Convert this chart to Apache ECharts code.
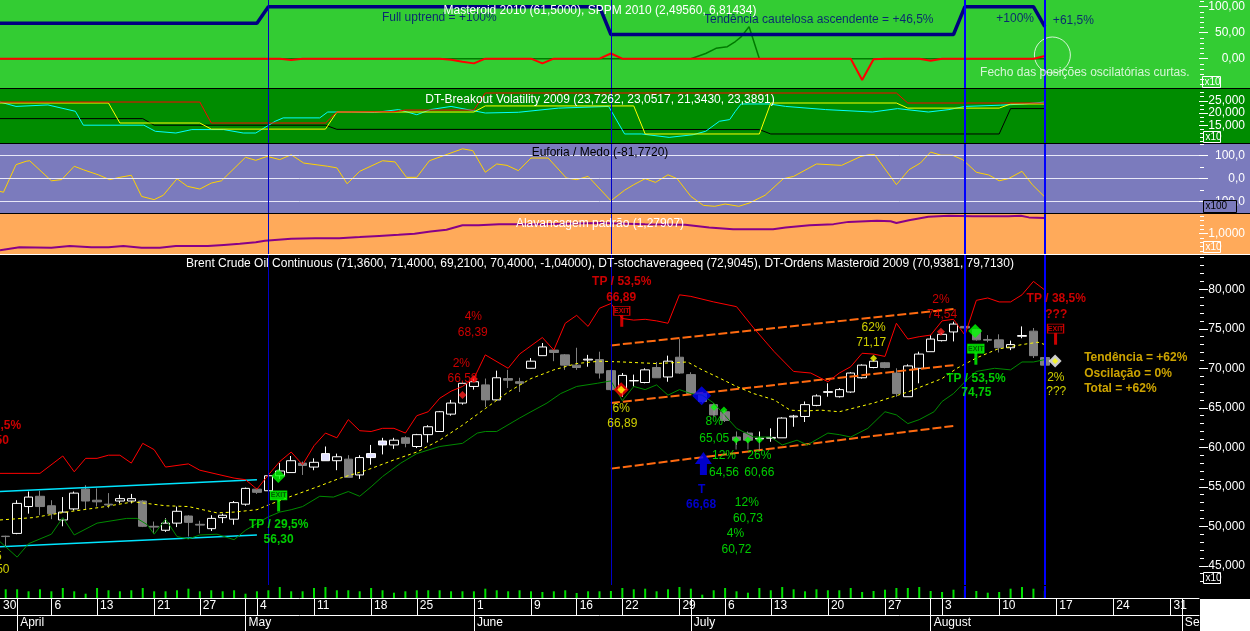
<!DOCTYPE html>
<html><head><meta charset="utf-8">
<script src="https://cdn.jsdelivr.net/npm/echarts@6.0.0/dist/echarts.min.js"></script>
<style>html,body{margin:0;padding:0;background:#000;}#c{width:1250px;height:631px;}</style>
</head><body><div id="c"></div>
<script>
// ================= DATA (x = trading-day index, 0 = 31 Mar 2009) =================
const dayTickIdx = [-0.5,4,8,13,17,22,27,32,36,41,46,50,54,59,63,67,72,77,82,87,92,97,102];
const dayTickLabels = ['30','6','13','21','27','4','11','18','25','1','9','16','22','29','6','13','20','27','3','10','17','24','31'];
const monthTickIdx = [1,21,41,60,81,103];
const monthLabels = ['April','May','June','July','August','September'];

// Brent candles [open, close, low, high]
const brentOCLH = [
[48.75,48.7,47.4,48.8],[49.1,52.9,49.0,53.3],[52.5,53.7,51.6,54.4],[53.8,52.5,51.4,54.5],[52.6,51.6,50.9,53.3],
[50.8,51.8,50.0,53.7],[52.2,54.2,52.0,54.4],[54.7,53.2,52.1,55.2],[53.3,53.1,52.5,54.8],[52.8,52.7,52.3,54.2],
[53.2,53.5,52.9,54.0],[53.2,53.5,52.9,54.1],[53.2,50.0,49.9,53.3],[50.0,49.9,49.1,50.6],[49.5,50.4,49.3,51.0],
[50.4,51.9,49.9,52.5],[51.3,50.5,48.7,51.4],[50.25,50.15,49.1,50.7],[49.7,51.0,49.4,51.4],[51.1,51.4,50.4,51.6],
[50.9,53.0,50.2,53.2],[52.8,54.8,52.6,54.9],[54.7,54.3,54.1,54.8],[54.5,56.4,54.4,56.5],[56.4,57.0,56.0,58.0],
[56.8,58.3,56.8,58.9],[58.0,57.7,56.5,58.2],[57.5,58.1,57.1,58.6],[58.3,59.2,58.3,60.1],[58.3,58.8,57.1,59.2],
[58.5,56.2,56.2,59.0],[56.5,58.7,56.0,59.0],[58.7,59.2,57.8,60.3],[60.3,60.8,59.1,61.2],[60.3,60.9,59.8,61.2],
[61.2,60.5,60.0,61.4],[60.1,61.6,59.9,61.7],[61.6,62.6,60.6,62.8],[62.0,64.5,62.0,64.6],[64.2,65.6,64.0,66.0],
[65.6,68.1,65.4,68.2],[67.7,68.3,67.3,68.7],[67.9,66.0,65.1,68.7],[66.0,68.8,66.0,69.7],[68.7,68.5,67.5,69.8],
[68.3,68.1,67.0,68.8],[70.0,70.9,70.0,71.3],[71.6,72.7,71.6,73.2],[72.3,72.0,70.9,72.4],[71.7,70.4,69.8,71.8],
[70.4,70.1,69.8,72.6],[71.05,71.15,70.2,71.7],[71.1,69.4,68.7,72.1],[69.7,67.3,67.2,69.8],[67.3,69.1,66.4,69.4],
[68.4,68.45,67.7,69.2],[68.2,69.8,68.1,70.0],[70.1,68.8,68.8,70.8],[68.9,70.9,68.3,71.6],[71.4,69.4,69.3,73.7],
[69.2,66.8,66.7,69.5],[66.8,65.8,65.6,66.9],[65.4,64.1,64.0,65.6],[64.5,63.4,63.2,64.7],[61.3,60.9,60.3,62.0],
[61.8,60.9,60.6,62.0],[61.05,61.15,60.6,62.0],[61.15,61.25,60.7,62.4],[61.2,63.7,61.2,63.8],[63.85,63.95,62.6,64.1],
[63.9,65.4,63.2,65.8],[65.3,66.5,65.2,66.7],[66.95,67.05,66.4,68.1],[66.4,67.3,66.3,67.5],[67.0,69.4,66.9,69.5],
[68.8,70.4,68.7,70.5],[70.1,70.9,70.0,71.1],[70.7,70.1,70.0,70.8],[69.4,66.8,66.4,70.0],[66.4,70.3,66.4,70.5],
[70.0,71.8,68.1,72.1],[72.1,73.7,72.1,74.2],[73.5,74.3,73.4,74.5],[74.6,75.6,73.4,75.9],[75.3,75.1,75.0,75.4],
[74.9,73.6,73.5,75.0],[73.65,73.55,73.3,74.2],[73.6,72.6,72.0,74.3],[72.6,73.0,72.3,73.5],[74.05,74.15,73.8,75.3],
[74.7,71.6,71.3,75.1],[71.36,70.40,69.21,71.40]
];
const lavenderCandles = [28,32,33];
const volumeTicks = [8.7,8.7,6.7,8.7,6.7,10,6.7,4.3,10,7.7,6.7,7.7,10,6.7,6.7,7.7,9.3,6.7,7.7,6.7,
7.7,4.3,6.7,7.7,11,6.7,6.7,10,11,7.7,7.7,6.7,10,7.7,5.3,6.7,7.7,7.7,7.7,6.7,
6.7,6.7,9.3,7.7,6.7,7.7,6.7,6,6.7,7.7,5,6.7,6.7,7,10,8.7,9.3,6.7,8.7,11,
9.3,3.3,7.7,10,6.7,5.3,10,7.7,11,8.7,6.7,8.7,7.7,7.7,10,6,7,8.3,10,10,
11,7,6,8.3,8,7,5.3,6,9.3,11,9.3,7];

const ordensUpper = [[-0.5,56.7],[3,56.7],[5,58.9],[6,56.9],[7,58.6],[8,58.6],[9,59],[10,59],[11,58],[12,60.5],[13,59.7],[14,57.5],[16,57.9],[17,57.1],[20,56.1],[21,55.9],[22,54.7],[23,56.5],[24,58.2],[25,59.4],[26,57.8],[27,60.2],[28,61.8],[29,61.2],[30,63.5],[31,62.1],[32,62],[33,62.4],[34,62.4],[35,61.8],[36,64],[37,64.5],[38,66.2],[39,67.1],[40,67.7],[41,68.7],[42,71.7],[44,70],[45,71.8],[47,73.9],[48,72.3],[49,75.7],[50,76.7],[51,75.3],[52,77.6],[53,78.2],[54,76.3],[55,76.1],[56,76.2],[57,76],[58,75.7],[59,79.3],[60,79.1],[62,78.4],[64,77.8],[65.5,75.1],[67.3,72.1],[69,69.6],[70.5,69.4],[72,68.3],[73,69.4],[74,70.2],[75,71.9],[76,71.8],[77,71.5],[78,75.7],[79,73.7],[80,74],[81,74.2],[82,76],[83,76.2],[84,74.2],[85,78.6],[86,78.9],[87,78.4],[88,78.4],[89,79.3],[90,81],[91,79.9]];
const ordensLower = [[-0.5,48.05],[1,46.1],[2,47.8],[4,49],[5,51.1],[6,48.9],[8,50.4],[10.6,51],[11.5,51],[12.4,50.2],[13,49],[14,50.9],[15,48.7],[16,48.4],[17,48.9],[18.5,49],[20,48.3],[21,49.5],[23,51.2],[24,51.8],[25,52.1],[26,52.5],[27.5,53.8],[28.7,53.7],[30,54.4],[31,53.8],[32,55],[33,56.3],[34.6,58],[36,59.2],[38,60.1],[40,60.5],[41.3,61.8],[42,62],[43,62],[45,63.7],[46,64.5],[47.4,65.6],[48.6,66.8],[50,67.7],[51.8,68.1],[53,68.4],[54,65.9],[55,67.7],[56,67.3],[57,67.9],[58,66.6],[59,67.3],[60,66.8],[61,66.6],[62,65.6],[64,62.4],[65.5,61.3],[67,61.3],[68,60.3],[69.3,60.9],[70.2,60.3],[71.4,61.3],[72,61.8],[73,61.6],[74,61.3],[75.5,62.4],[77,64.5],[78,64.1],[79,63],[80,63.5],[81.3,64.5],[82,65.8],[83,66.8],[84,68.3],[85,69.6],[86.6,70],[88,69.8],[89,70.8],[90,70.8],[91,71.1]];
const stochAverage = [[-0.5,50.8],[2.4,51.1],[5.3,51.8],[8.3,52.4],[11.2,53.1],[14,52.6],[16,52.5],[18.5,51.7],[20,51.8],[22,52.1],[23,52.7],[25,53.8],[27.3,55],[29.3,56.1],[31.6,57.1],[34,58.4],[36,59.4],[38,60.9],[40,62.8],[42,64.9],[44,67],[46,68.7],[48,69.8],[50,70.6],[52,70.9],[54,70.8],[57,70.6],[59.7,70.8],[61,69.8],[62.6,68.7],[64,67.7],[65.5,66.8],[67.3,66],[68.7,64.7],[70,64.6],[71.4,64.7],[73,64.5],[76,65.6],[79,67],[82,68.7],[83.3,70],[85,71.3],[86.8,72.4],[89,73],[90.4,73.3],[91,73]];
const channelTop = [[53,72.9],[83,77.5]];
const channelMid = [[53,65.6],[83,70.4]];
const channelBottom = [[53,57.3],[83,62.7]];
const cyanTop = [[-0.5,54.4],[22,55.9]];
const cyanBottom = [[-0.5,47.4],[22,48.9]];

// Panel 1 (Masteroid / SPPM)
const masteroidLevel = [[-0.5,68],[22,68],[23,100],[52,100],[53,46.5],[83,46.5],[84,100],[90,100],[91,61.5]];
const sppmRed = [[-0.5,0],[24,0],[25,-2.5],[26,0],[38,0],[39,-2],[40,-6],[41,-9],[42,0],[46,0],[47,-9],[48,0],[52,0],[53,10],[54,0],[74,0],[75,-41],[76,-1],[77,0],[80,0],[81,-4],[82,0],[90,0],[91,5]];
const sppmGreen = [[-0.5,0],[60,0],[61.3,10],[62.2,20],[63.2,23],[63.9,33],[64.4,42],[65.1,61.5],[66,0],[91,0]];

// Panel 2 (Breakout volatility)
const bvRed = [[-0.5,24.5],[17,24.5],[18,15.9],[28,15.9],[29,20.4],[34,20.5],[35,21.2],[41,21.2],[42,28.2],[78,28.2],[79,24.1],[91,24.1]];
const bvBlack = [[-0.5,17.7],[12,17.7],[13,15],[28,15],[29,13.3],[66,13.2],[67,11.4],[87,11.4],[88,21.8],[91,21.8]];
const bvYellow = [[-0.5,24.1],[9,24.1],[10,15.9],[17,15.9],[18,13.4],[28,13.4],[29,20.4],[41,20.4],[42,22.9],[55,22.9],[56,11.4],[66,11.4],[67,24.1],[78,24.1],[79,22],[87,22],[88,23.7],[91,23.7]];
const bvCyan = [[-0.5,24.5],[0.9,22.7],[3.7,23.3],[6.1,20.7],[6.8,15],[12.1,15],[13.1,12.5],[14.9,11.8],[16.3,13.2],[19.1,13.2],[20.8,11.8],[21.9,11.8],[23.6,16.6],[24.3,18],[27.5,18],[28.2,20.4],[30.3,20.4],[32.3,20.2],[34.4,21.4],[36,19.3],[37.2,21.4],[39,22.7],[42,20],[44.9,20.3],[48.4,22],[52.8,22.7],[54.2,11.4],[55.7,11.4],[58.1,10],[60.2,11.1],[61.3,12.5],[62.5,16.6],[63.4,17.3],[63.9,20.7],[64.4,23.7],[66.9,23.7],[68.3,22.7],[71.8,21.4],[75.9,20.4],[78.1,21.8],[80.8,20.4],[82.6,21.4],[84,22.7],[87.1,23.2],[89.2,23.7],[91,24.5]];

// Panel 3 (Euforia / Medo)
const euforiaMedo = [[-0.5,-55],[-0.2,-59],[0.9,61],[1.8,76],[2.1,78],[4,-9],[4.9,-4],[6,54],[6.8,39],[8.1,17],[9.1,-4],[10,6],[11,15],[11.9,-77],[13,-91],[13.8,-72],[15,0],[15.9,-33],[17,-45],[18,-19],[18.9,-9],[21,93],[21.9,80],[22.9,97],[24,83],[25,104],[26.1,68],[28.2,54],[29,47],[29.9,-22],[31,32],[33,78],[34.1,73],[35.1,6],[36,6],[37.1,78],[40,130],[40.9,122],[42,28],[43,64],[43.9,58],[44.9,35],[46,90],[47.5,90],[49.1,3],[50,-4],[51,10],[53,-96],[54.2,-50],[55,-26],[56,0],[56.9,-16],[58,17],[58.8,0],[60,-77],[61.1,-116],[62.1,-120],[63,-110],[64.2,-120],[65.1,-106],[66.5,-72],[68.1,0],[69,10],[71,64],[73.2,58],[74.9,97],[75.6,104],[76.1,104],[78,-26],[79.1,39],[80.1,68],[81,116],[81.9,102],[82.9,102],[83.8,83],[85,28],[86.1,16],[87,-9],[87.8,0],[89,32],[89.9,-26],[91,-80]];

// Panel 4 (Alavancagem)
const alavancagem = [[-0.5,0.705],[1.2,0.76],[4,0.75],[5.6,0.78],[7.5,0.76],[9,0.76],[10.3,0.78],[11.9,0.75],[13.5,0.75],[14.9,0.78],[17.7,0.78],[19.1,0.8],[20.5,0.82],[21.9,0.85],[22.7,0.876],[25,0.91],[27.1,0.92],[29.2,0.92],[31,0.94],[32.7,0.96],[34.4,0.98],[35.8,1.0],[37.2,1.04],[38.6,1.07],[40,1.15],[41.4,1.15],[43.2,1.17],[47,1.17],[52,1.19],[56,1.17],[59.5,1.16],[61.6,1.11],[63.7,1.08],[67.2,1.08],[68.3,1.11],[70.4,1.15],[72.5,1.17],[73.8,1.21],[76.3,1.23],[77.5,1.22],[78,1.19],[79.1,1.24],[80.8,1.3],[82.6,1.32],[84.7,1.31],[87.8,1.31],[88.9,1.32],[89.6,1.29],[91,1.28]];

// Marked days (vertical lines)
const thinMarkDays = [23,53];
const thickMarkDays = [84,91];

// Annotations [dayIndex, value, text]
const p1NavyNotes = [[37.97,79.6,'Full uptrend = +100%'],[71.2,74.4,'Tendência cautelosa ascendente = +46,5%'],[88.4,77.7,'+100%'],[93.5,72.5,'+61,5%']];
const p1WhiteNotes = [[94.5,-26.9,'Fecho das posições oscilatórias curtas.']];
const p1Circle = [[91.66,7.1]];
const redNotes = [[40.95,76.53,'4%'],[40.9,74.56,'68,39'],[39.9,70.63,'2%'],[40,68.73,'66,58'],[81.9,78.73,'2%'],[82,76.75,'74,54']];
const redBoldNotes = [[53.95,80.96,'TP / 53,5%'],[53.9,78.94,'66,89'],[92,78.77,'TP / 38,5%'],[92,76.84,'???']];
const redBoldEdgeNotes = [[1.4,62.73,'TP / 39,5%'],[0.32,60.8,'52,50']];
const yellowNotes = [[53.9,64.85,'6%'],[54,63.04,'66,89'],[76,75.14,'62%'],[75.8,73.29,'71,17'],[91.96,68.86,'2%'],[92,67.04,'???']];
const yellowEdgeNotes = [[-0.3,46.15,'45'],[0.38,44.46,'48,50']];
const greenNotes = [[62.05,63.24,'8%'],[62.05,61.14,'65,05'],[62.9,58.9,'12%'],[66,58.9,'26%'],[62.9,56.84,'64,56'],[66,56.84,'60,66'],[64.9,53.04,'12%'],[65,51.01,'60,73'],[63.9,49.11,'4%'],[64,47.09,'60,72']];
const greenBoldNotes = [[23.9,50.16,'TP / 29,5%'],[23.9,48.35,'56,30'],[84.96,68.65,'TP / 53,5%'],[85,66.96,'74,75']];
const blueBoldNotes = [[60.95,54.6,'T'],[60.9,52.7,'66,68']];
const summaryNotes = [[94.4,71.34,'Tendência = +62%'],[94.4,69.37,'Oscilação = 0%'],[94.4,67.38,'Total = +62%']];

// Markers [dayIndex, value]
const redDots = [[40,66.62],[41,68.65],[81.9,74.63]];
const exitRedDiamond = [[53.9,67.27]];
const blueDiamond = [[60.95,66.53]];
const greenPins = [[62.03,65.06],[62.9,64.72],[63.96,60.92],[65,60.92],[66,60.92]];
const greenDiamonds = [[23.87,56.37],[84.9,74.72]];
const yellowDots = [[76,71.27]];
const whiteDiamond = [[91.9,70.92]];
const blueArrow = [[61.1,57.96]];
const exitRed = [[53.95,77.28],[91.94,75.01]];
const exitGreen = [[23.9,53.9],[84.96,72.48]];

// ================= CHART =================
const FONT = 'Liberation Sans';
const X_MIN = -0.5, X_MAX = 104.5;
const GRID_W = 1199;

function range(a, b, step) { const r = []; for (let v = a; v <= b + 1e-9; v += step) r.push(+v.toFixed(6)); return r; }
function fmtDec(d) { return v => v.toFixed(d).replace('.', ','); }

// major ticks + labels on the right axis; minor ticks on a left-positioned axis moved to the right edge
function yPair(gi, min, max, majors, minors, fmt) {
  return [
    {type:'value', gridIndex:gi, position:'right', min, max, splitLine:{show:false},
     axisLine:{show:false, onZero:false},
     axisTick:{show:true, customValues:majors, length:9, lineStyle:{color:'#fff', width:1}},
     axisLabel:{show:true, customValues:majors, formatter:fmt, align:'right', margin:46, color:'#fff', fontSize:12, fontFamily:FONT}},
    {type:'value', gridIndex:gi, position:'left', offset:-GRID_W - 1, min, max, splitLine:{show:false},
     axisLine:{show:false, onZero:false},
     axisTick:{show:true, inside:true, customValues:minors, length:4, lineStyle:{color:'#fff', width:1}},
     axisLabel:{show:false}}
  ];
}

const grids = [
  {left:0, top:0, width:GRID_W, height:88},
  {left:0, top:89, width:GRID_W, height:54},
  {left:0, top:144, width:GRID_W, height:69},
  {left:0, top:214, width:GRID_W, height:40},
  {left:0, top:255, width:GRID_W, height:330},
  {left:0, top:586, width:GRID_W, height:12}
];

const dayLabelOf = {}; dayTickIdx.forEach((k, i) => dayLabelOf[String(k)] = dayTickLabels[i]);
const monthLabelOf = {}; monthTickIdx.forEach((k, i) => monthLabelOf[String(k)] = monthLabels[i]);
const dayLineTicks = dayTickIdx.filter(k => k > X_MIN).concat(monthTickIdx);

const xAxes = [0,1,2,3,4].map(gi => ({type:'value', gridIndex:gi, min:X_MIN, max:X_MAX, show:false, axisLine:{onZero:false}}));
xAxes.push({type:'value', gridIndex:5, min:X_MIN, max:X_MAX, position:'bottom',
  axisLine:{show:true, onZero:false, lineStyle:{color:'#fff', width:1}}, splitLine:{show:false},
  axisTick:{show:true, customValues:dayLineTicks, length:17, lineStyle:{color:'#fff', width:1}},
  axisLabel:{show:true, customValues:dayTickIdx, formatter:v => dayLabelOf[String(v)] || '', align:'left',
    margin:2, padding:[0,0,0,3], color:'#fff', fontSize:12, fontFamily:FONT}});
xAxes.push({type:'value', gridIndex:5, min:X_MIN, max:X_MAX, position:'bottom', offset:17,
  axisLine:{show:true, onZero:false, lineStyle:{color:'#fff', width:1}}, splitLine:{show:false},
  axisTick:{show:true, customValues:monthTickIdx, length:16, lineStyle:{color:'#fff', width:1}},
  axisLabel:{show:true, customValues:monthTickIdx, formatter:v => monthLabelOf[String(v)] || '', align:'left',
    margin:2, padding:[0,0,0,3], color:'#fff', fontSize:12, fontFamily:FONT}});

const p4Minor = []; for (let i = -4; i <= 4; i++) if (i !== 0) p4Minor.push(+(1 + i / 13).toFixed(5));
const yAxes = [].concat(
  yPair(0, -56.35, 112.88, [0,50,100], range(-50,110,10), fmtDec(2)),
  yPair(1, 7.7, 29.84, [15,20,25], range(8.3333,28.4,5/3), fmtDec(3)),
  yPair(2, -149.13, 150.87, [-100,0,100], [-50,50,150], fmtDec(1)),
  yPair(3, 0.6394, 1.35, [1], p4Minor, fmtDec(4)),
  yPair(4, 42.57, 84.34, range(45,80,5), range(43,84,1), fmtDec(3)),
  [{type:'value', gridIndex:5, min:0, max:12, show:false, axisLine:{onZero:false}}]
);

function vLines(days, color, width) {
  return days.map(d => ({xAxis:d, lineStyle:{color, width, type:'solid'}}));
}
function markLines(extra, thinToo) {
  let data = [];
  if (thinToo) data = data.concat(vLines(thinMarkDays, '#0000C8', 1));
  data = data.concat(vLines(thickMarkDays, '#0000FF', 2));
  return {symbol:['none','none'], silent:true, label:{show:false}, animation:false, data: data.concat(extra || [])};
}
function line(xi, yi, data, color, width, extra) {
  return Object.assign({type:'line', xAxisIndex:xi, yAxisIndex:yi, data, symbol:'none', silent:true,
    lineStyle:{color, width}}, extra || {});
}
function notes(xi, yi, arr, style, pos) {
  return {type:'scatter', xAxisIndex:xi, yAxisIndex:yi, symbolSize:1, silent:true, z:10,
    itemStyle:{color:'rgba(0,0,0,0)'},
    label:Object.assign({show:true, position:pos || 'inside', distance:0, formatter:'{b}', fontSize:12, fontFamily:FONT}, style),
    data: arr.map(a => ({value:[a[0], a[1]], name:a[2]}))};
}
function markers(arr, symbol, size, itemStyle, extra) {
  return Object.assign({type:'scatter', xAxisIndex:4, yAxisIndex:8, symbol, symbolSize:size, silent:true, z:8,
    itemStyle, data:arr}, extra || {});
}

const candleData = brentOCLH.map((c, i) => {
  const item = {value:[i, c[0], c[1], c[2], c[3]]};
  if (lavenderCandles.indexOf(i) >= 0) item.itemStyle = {color:'#E0E0FF'};
  return item;
});

const series = [
  // panel 1
  line(0,0,sppmGreen,'#007A00',1.5),
  line(0,0,sppmRed,'#FF0000',2),
  line(0,0,masteroidLevel,'#000080',3.5,{markLine:markLines(null,true)}),
  notes(0,0,p1NavyNotes,{color:'#000080'}),
  notes(0,0,p1WhiteNotes,{color:'#FFFFFF'}),
  {type:'scatter', xAxisIndex:0, yAxisIndex:0, symbol:'circle', symbolSize:36, silent:true,
   itemStyle:{color:'rgba(0,0,0,0)', borderColor:'#FFFFFF', borderWidth:1}, data:p1Circle},
  // panel 2
  line(1,2,bvBlack,'#000000',1),
  line(1,2,bvCyan,'#00FFFF',1),
  line(1,2,bvYellow,'#FFFF00',1),
  line(1,2,bvRed,'#FF0000',1,{markLine:markLines(null,true)}),
  // panel 3
  {type:'line', xAxisIndex:2, yAxisIndex:4, data:[], markLine:{symbol:['none','none'], silent:true, label:{show:false},
    lineStyle:{color:'#E8E8F8', width:1, type:'solid'}, data:[{yAxis:100},{yAxis:0},{yAxis:-100}]}},
  line(2,4,euforiaMedo,'#FFD200',1,{markLine:markLines(null,true)}),
  // panel 4
  line(3,6,alavancagem,'#880088',2,{markLine:markLines(null,true)}),
  // main
  line(4,8,cyanTop,'#00E5FF',1.5),
  line(4,8,cyanBottom,'#00E5FF',1.5),
  line(4,8,channelTop,'#FF6A10',2,{lineStyle:{color:'#FF6A10', width:2, type:[9,3]}}),
  line(4,8,channelMid,'#FF6A10',2,{lineStyle:{color:'#FF6A10', width:2, type:[9,3]}}),
  line(4,8,channelBottom,'#FF6A10',2,{lineStyle:{color:'#FF6A10', width:2, type:[9,3]}}),
  line(4,8,ordensLower,'#008A00',1),
  line(4,8,stochAverage,'#FFFF00',1,{lineStyle:{color:'#FFFF00', width:1, type:[3,3]}}),
  line(4,8,ordensUpper,'#FF0000',1,{markLine:markLines(null,true)}),
  {type:'candlestick', xAxisIndex:4, yAxisIndex:8, barWidth:9, silent:true, encode:{x:0, y:[1,2,3,4]},
   itemStyle:{color:'#000000', color0:'#808080', borderColor:'#FFFFFF', borderColor0:'#808080', borderWidth:1},
   data:candleData},
  markers(redDots,'diamond',8,{color:'#FF2020'}),
  markers(exitRedDiamond,'diamond',15,{color:'#FF0000'}),
  markers(exitRedDiamond,'diamond',8,{color:'#FFFF00'},{z:9}),
  markers(blueDiamond,'diamond',19,{color:'#0000FF'}),
  markers(greenPins,'rect',[1,9],{color:'#A0A0A0'},{symbolOffset:[0,5]}),
  markers(greenPins,'diamond',7,{color:'#00FF00'},{z:9}),
  markers(greenDiamonds,'diamond',14,{color:'#00FF00'}),
  markers(yellowDots,'diamond',7,{color:'#FFFF00'}),
  markers(whiteDiamond,'diamond',13,{color:'#FFFFFF'}),
  markers(whiteDiamond,'diamond',6,{color:'#FFFF00'},{z:9}),
  markers(blueArrow,'path://M8.5,0 L17,12 L12,12 L12,23 L5,23 L5,12 L0,12 Z',[17,23],{color:'#0000FF'}),
  markers(exitRed,'rect',[3,12],{color:'#FF0000'},{symbolOffset:[0,10]}),
  markers(exitRed,'rect',[16,9],{color:'#000000', borderColor:'#FF0000', borderWidth:1},
    {label:{show:true, position:'inside', formatter:'EXIT', color:'#FF0000', fontSize:7, fontWeight:'bold', fontFamily:FONT}}),
  markers(exitGreen,'rect',[3,12],{color:'#00FF00'},{symbolOffset:[0,10]}),
  markers(exitGreen,'rect',[16,9],{color:'#00FF00', borderColor:'#00FF00', borderWidth:1},
    {label:{show:true, position:'inside', formatter:'EXIT', color:'#004400', fontSize:7, fontWeight:'bold', fontFamily:FONT}}),
  notes(4,8,redNotes,{color:'#FF0000'}),
  notes(4,8,redBoldNotes,{color:'#FF0000', fontWeight:'bold'}),
  notes(4,8,redBoldEdgeNotes,{color:'#FF0000', fontWeight:'bold'},'left'),
  notes(4,8,yellowNotes,{color:'#FFFF00'}),
  notes(4,8,yellowEdgeNotes,{color:'#FFFF00'},'left'),
  notes(4,8,greenNotes,{color:'#00FF00'}),
  notes(4,8,greenBoldNotes,{color:'#00FF00', fontWeight:'bold'}),
  notes(4,8,blueBoldNotes,{color:'#0000FF', fontWeight:'bold'}),
  notes(4,8,summaryNotes,{color:'#FFCC00', fontWeight:'bold'},'right'),
  // volume ticks
  {type:'bar', xAxisIndex:5, yAxisIndex:10, barWidth:2, silent:true, itemStyle:{color:'#00E000'},
   data:volumeTicks.map((v, i) => [i, v]), markLine:markLines(null,false)}
];

function bg(x, y, w, h, fill, z) { return {type:'rect', z:z, silent:true, shape:{x, y, width:w, height:h}, style:{fill}}; }
function box(x, y, w, h, txt, stroke, textColor, fill) {
  return [{type:'rect', z:50, silent:true, shape:{x, y, width:w, height:h}, style:{fill:fill || 'none', stroke, lineWidth:1}},
          {type:'text', z:51, silent:true, x:x + 2, y:y + 1, style:{text:txt, fill:textColor, font:'10px ' + FONT}}];
}
const graphic = [
  bg(0,0,1250,88,'#33CC33',-100), bg(0,88,1250,1,'#000000',-100),
  bg(0,89,1250,54,'#008C00',-100), bg(0,143,1250,1,'#000000',-100),
  bg(0,144,1250,69,'#7B7BBD',-100), bg(0,213,1250,1,'#000000',-100),
  bg(0,214,1250,40,'#FFAA5A',-100), bg(0,254,1250,1,'#FFFFFF',-100),
  bg(0,255,1250,376,'#000000',-100),
  bg(1200,599,50,32,'#FFFFFF',100)
].concat(
  box(1202.5,76.5,18,11,'x10','#FFFFFF','#FFFFFF'),
  box(1203.5,131.5,17,11,'x10','#FFFFFF','#FFFFFF'),
  box(1203.5,200.5,33,12,'x100','#000000','#000000','#7B7BBD'),
  box(1203.5,241.5,17,11,'x10','#FFFFFF','#FFFFFF'),
  box(1203.5,572.5,17,11,'x10','#FFFFFF','#FFFFFF')
);

const titleStyle = c => ({color:c, fontSize:12, fontWeight:'normal', fontFamily:FONT});
const titles = [
  {text:'Masteroid 2010 (61,5000), SPPM 2010 (2,49560, 6,81434)', top:5, c:'#FFFFFF'},
  {text:'DT-Breakout Volatility 2009 (23,7262, 23,0517, 21,3430, 23,3891)', top:94, c:'#FFFFFF'},
  {text:'Euforia / Medo (-81,7720)', top:147, c:'#000000'},
  {text:'Alavancagem padrão (1,27907)', top:218, c:'#FFFFFF'},
  {text:'Brent Crude Oil Continuous (71,3600, 71,4000, 69,2100, 70,4000, -1,04000), DT-stochaverageeq (72,9045), DT-Ordens Masteroid 2009 (70,9381, 79,7130)', top:258, c:'#FFFFFF'}
].map(t => ({text:t.text, left:600, top:t.top, textAlign:'center', padding:0, textStyle:titleStyle(t.c), z:20}));

const chart = echarts.init(document.getElementById('c'), null, {renderer:'canvas'});
chart.setOption({
  animation:false,
  backgroundColor:'#000000',
  textStyle:{fontFamily:FONT},
  title:titles,
  grid:grids,
  xAxis:xAxes,
  yAxis:yAxes,
  series,
  graphic
});
</script>
</body></html>
